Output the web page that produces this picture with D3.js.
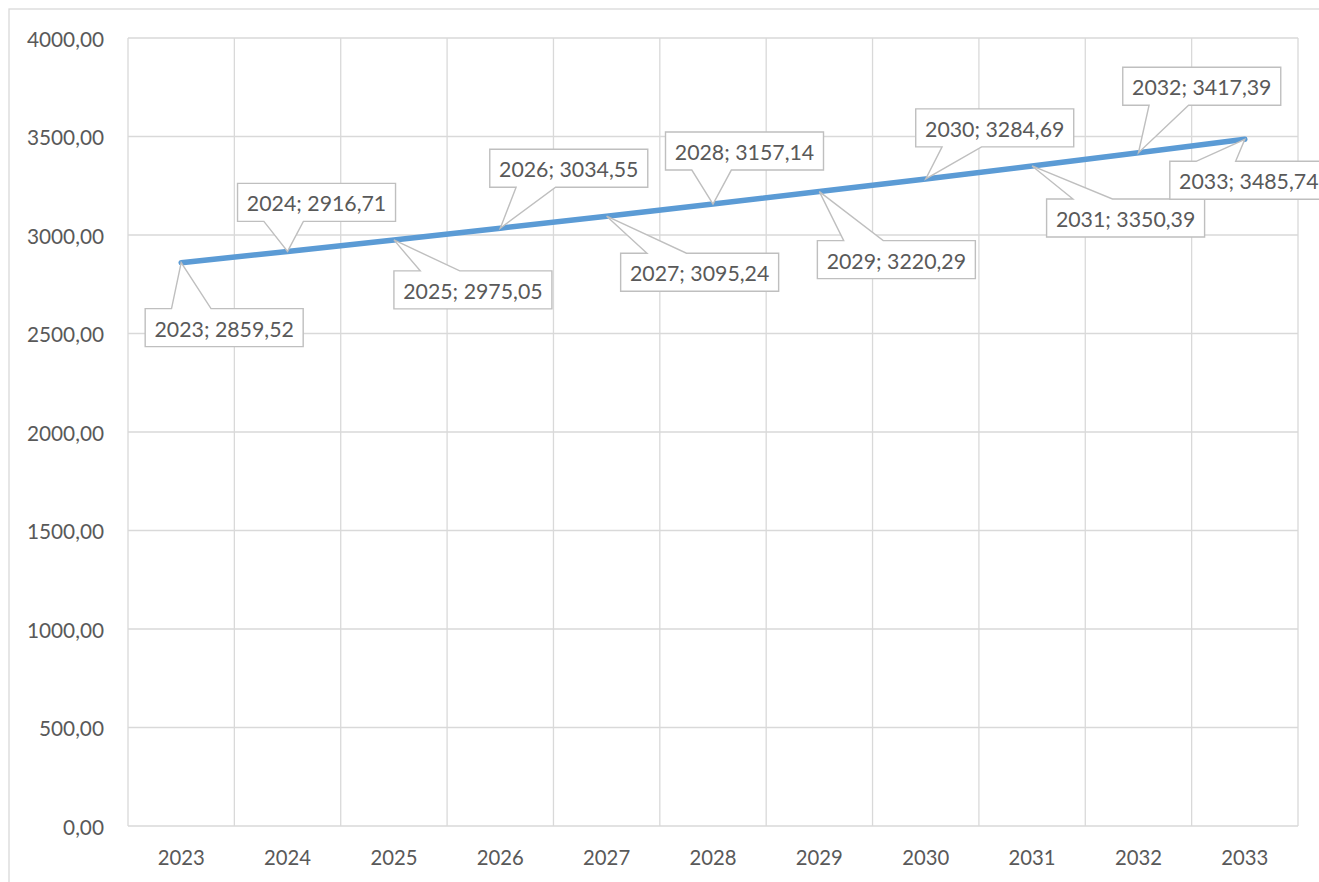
<!DOCTYPE html>
<html>
<head>
<meta charset="utf-8">
<script src="https://cdn.jsdelivr.net/npm/d3@7"></script>
<style>
  html, body { margin: 0; padding: 0; background: #ffffff; }
  svg { display: block; }
  text { font-family: Lato, "Open Sans", sans-serif; fill: #595959; }
</style>
</head>
<body>
<svg id="chart" width="1319" height="882"></svg>
<script>
// Years on the category axis
const years = ["2023", "2024", "2025", "2026", "2027", "2028", "2029", "2030", "2031", "2032", "2033"];
// Series values
const values = [2859.52, 2916.71, 2975.05, 3034.55, 3095.24, 3157.14, 3220.29, 3284.69, 3350.39, 3417.39, 3485.74];
// Value axis ticks
const yTicks = [0, 500, 1000, 1500, 2000, 2500, 3000, 3500, 4000];

// Callout box placement relative to its point (left/top corner offset)
const calloutOffsets = [
  [-36, 46], [-50, -68], [0, 31], [-10.5, -79], [14, 37], [-47.5, -72],
  [-2, 49], [-10, -70], [14.5, 33], [-15.7, -85.5], [-75, 22]
];

const svg = d3.select("#chart");
const plot = { left: 128, right: 1298, top: 38, bottom: 826 };

// Outer chart frame
svg.append("rect")
  .attr("x", 9).attr("y", 9).attr("width", 1400).attr("height", 1000)
  .attr("fill", "none").attr("stroke", "#d9d9d9").attr("stroke-width", 1.3);

const x = d3.scaleBand().domain(years).range([plot.left, plot.right]).padding(0);
const y = d3.scaleLinear().domain([0, 4000]).range([plot.bottom, plot.top]);

const fmt = v => d3.format(".2f")(v).replace(".", ",");

// Horizontal gridlines
svg.append("g").selectAll("line").data(yTicks).join("line")
  .attr("x1", plot.left).attr("x2", plot.right)
  .attr("y1", d => y(d)).attr("y2", d => y(d))
  .attr("stroke", "#d9d9d9").attr("stroke-width", 1.3);

// Vertical gridlines at category boundaries
const bounds = years.map(d => x(d)).concat([plot.right]);
svg.append("g").selectAll("line").data(bounds).join("line")
  .attr("x1", d => d).attr("x2", d => d)
  .attr("y1", plot.top).attr("y2", plot.bottom)
  .attr("stroke", "#d9d9d9").attr("stroke-width", 1.3);

// Y axis labels
svg.append("g").selectAll("text").data(yTicks).join("text")
  .attr("x", 104).attr("y", d => y(d))
  .attr("text-anchor", "end").attr("dominant-baseline", "central")
  .attr("font-size", 20.8)
  .text(d => fmt(d));

// X axis labels
svg.append("g").selectAll("text").data(years).join("text")
  .attr("x", d => x(d) + x.bandwidth() / 2).attr("y", 857)
  .attr("text-anchor", "middle").attr("dominant-baseline", "central")
  .attr("font-size", 20.3)
  .text(d => d);

// Series line
const pts = years.map((d, i) => [x(d) + x.bandwidth() / 2, y(values[i])]);
svg.append("path")
  .attr("d", d3.line()(pts))
  .attr("fill", "none").attr("stroke", "#5b9bd5").attr("stroke-width", 5.5)
  .attr("stroke-linecap", "round").attr("stroke-linejoin", "round");

// Callout data labels
const boxW = 158, boxH = 38;
function calloutPath(bx, by, w, h, tx, ty) {
  const left = tx < bx + w / 2;
  const b1 = bx + w * (left ? 2 : 7) / 12;
  const b2 = bx + w * (left ? 5 : 10) / 12;
  if (ty > by + h) {
    return `M${bx},${by}H${bx + w}V${by + h}H${b2}L${tx},${ty}L${b1},${by + h}H${bx}Z`;
  }
  return `M${bx},${by}H${b1}L${tx},${ty}L${b2},${by}H${bx + w}V${by + h}H${bx}Z`;
}
const labels = svg.append("g");
pts.forEach((p, i) => {
  const bx = p[0] + calloutOffsets[i][0];
  const by = p[1] + calloutOffsets[i][1];
  labels.append("path")
    .attr("d", calloutPath(bx, by, boxW, boxH, p[0], p[1]))
    .attr("fill", "#ffffff").attr("stroke", "#bfbfbf").attr("stroke-width", 1.4);
  labels.append("text")
    .attr("x", bx + boxW / 2).attr("y", by + boxH / 2 + 1)
    .attr("text-anchor", "middle").attr("dominant-baseline", "central")
    .attr("font-size", 21.3)
    .text(`${years[i]}; ${fmt(values[i])}`);
});
</script>
</body>
</html>
